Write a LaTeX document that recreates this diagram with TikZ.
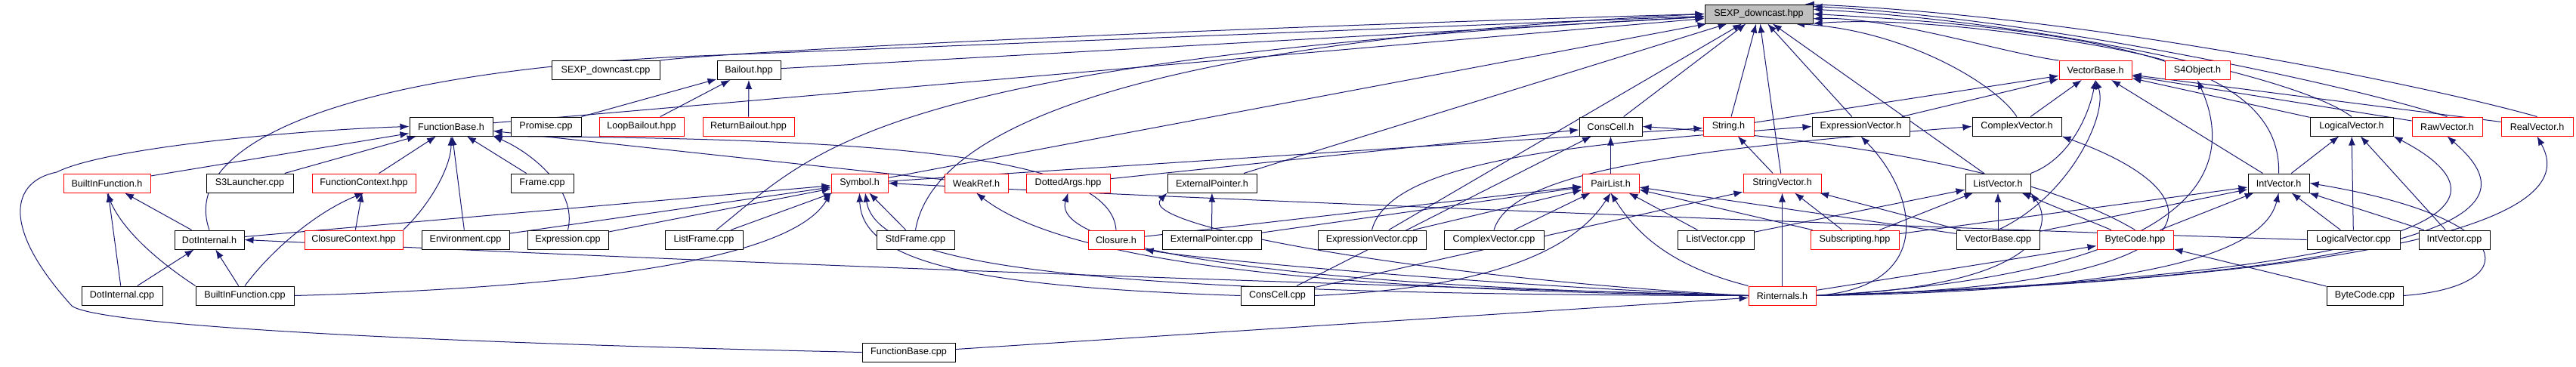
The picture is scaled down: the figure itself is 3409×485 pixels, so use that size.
\documentclass[tikz,border=0pt]{standalone}
\usepackage{fontspec}
\setsansfont{Liberation Sans}
\usepackage{tikz}
\usetikzlibrary{arrows.meta,positioning,calc}
\pgfdeclarelayer{edges}
\pgfsetlayers{edges,main}
\definecolor{navy}{HTML}{191970}
\definecolor{rootgray}{HTML}{BFBFBF}
\tikzset{
	file/.style = {draw=black, fill=white, rectangle, line width=1pt, minimum height=25pt, inner sep=0pt, font=\sffamily\fontsize{12.6}{14}\selectfont},
	part/.style = {file, draw=red},
	top/.style  = {file, fill=rootgray},
	dep/.style  = {draw=navy, line width=1pt, -{Latex[length=12pt,width=9pt]}}
}

\begin{document}
\begin{tikzpicture}[x=1pt,y=-1pt]
    \useasboundingbox (0,0) rectangle (3409,485);

    \node [top, minimum width=143] (root) at (2327.5,18.5) {SEXP\_downcast.hpp};

    \node [file, minimum width=143] (sdcpp) at (801.5,93) {SEXP\_downcast.cpp};
    \node [file, minimum width=84, right of=sdcpp, node distance=189.5] (bailout) {Bailout.hpp};
    \node [part, minimum width=96] (vecbase) at (2773,93) {VectorBase.h};
    \node [part, minimum width=86, right of=vecbase, node distance=135] (s4obj) {S4Object.h};

    \node [file, minimum width=110] (fbh) at (597,167.5) {FunctionBase.h};
    \node [file, minimum width=93, right of=fbh, node distance=125.5] (promise) {Promise.cpp};
    \node [part, minimum width=112, right of=promise, node distance=126.5] (loopb) {LoopBailout.hpp};
    \node [part, minimum width=121, right of=loopb, node distance=141.5] (retb) {ReturnBailout.hpp};
    \node [file, minimum width=83] (conscellh) at (2131.5,167.5) {ConsCell.h};
    \node [part, minimum width=67, right of=conscellh, node distance=156] (stringh) {String.h};
    \node [file, minimum width=129, right of=stringh, node distance=175] (exprvech) {ExpressionVector.h};
    \node [file, minimum width=118, right of=exprvech, node distance=206.5] (cplxvech) {ComplexVector.h};
    \node [file, minimum width=110] (logvech) at (3112,167.5) {LogicalVector.h};
    \node [part, minimum width=93, right of=logvech, node distance=126.5] (rawvech) {RawVector.h};
    \node [part, minimum width=95, right of=rawvech, node distance=119] (realvech) {RealVector.h};

    \node [part, minimum width=115] (bifh) at (141.5,242.5) {BuiltInFunction.h};
    \node [file, minimum width=115, right of=bifh, node distance=189] (s3l) {S3Launcher.cpp};
    \node [part, minimum width=137, right of=s3l, node distance=151] (fctx) {FunctionContext.hpp};
    \node [file, minimum width=83, right of=fctx, node distance=236] (frame) {Frame.cpp};
    \node [part, minimum width=75] (symh) at (1137.5,242.5) {Symbol.h};
    \node [part, minimum width=84, right of=symh, node distance=154.5] (weakref) {WeakRef.h};
    \node [part, minimum width=111, right of=weakref, node distance=121.5] (dotargs) {DottedArgs.hpp};
    \node [file, minimum width=118, right of=dotargs, node distance=190.5] (extptrh) {ExternalPointer.h};
    \node [part, minimum width=75] (pairlist) at (2131.5,242.5) {PairList.h};
    \node [part, minimum width=103, right of=pairlist, node distance=227] (strvech) {StringVector.h};
    \node [file, minimum width=86, right of=strvech, node distance=285.5] (listvech) {ListVector.h};
    \node [file, minimum width=81] (intvech) at (3015.5,242.5) {IntVector.h};

    \node [file, minimum width=92] (dotinth) at (277,317.5) {DotInternal.h};
    \node [part, minimum width=130, right of=dotinth, node distance=191] (closctx) {ClosureContext.hpp};
    \node [file, minimum width=116, right of=closctx, node distance=148] (envcpp) {Environment.cpp};
    \node [file, minimum width=107, right of=envcpp, node distance=135.5] (exprcpp) {Expression.cpp};
    \node [file, minimum width=103, right of=exprcpp, node distance=180] (listframe) {ListFrame.cpp};
    \node [file, minimum width=103, right of=listframe, node distance=280] (stdframe) {StdFrame.cpp};
    \node [part, minimum width=74, right of=stdframe, node distance=265.5] (closureh) {Closure.h};
    \node [file, minimum width=131, right of=closureh, node distance=126.5] (extptrcpp) {ExternalPointer.cpp};
    \node [file, minimum width=143, right of=extptrcpp, node distance=212] (exprveccpp) {ExpressionVector.cpp};
    \node [file, minimum width=132, right of=exprveccpp, node distance=161.5] (cplxveccpp) {ComplexVector.cpp};
    \node [file, minimum width=101, right of=cplxveccpp, node distance=293.5] (listveccpp) {ListVector.cpp};
    \node [part, minimum width=117, right of=listveccpp, node distance=184] (subscr) {Subscripting.hpp};
    \node [file, minimum width=110, right of=subscr, node distance=189.5] (vecbasecpp) {VectorBase.cpp};
    \node [part, minimum width=101, right of=vecbasecpp, node distance=181.5] (bytecodehpp) {ByteCode.hpp};
    \node [file, minimum width=123, right of=bytecodehpp, node distance=289] (logveccpp) {LogicalVector.cpp};
    \node [file, minimum width=94, right of=logveccpp, node distance=133.5] (intveccpp) {IntVector.cpp};

    \node [file, minimum width=107] (dotintcpp) at (161.5,391.5) {DotInternal.cpp};
    \node [file, minimum width=130, right of=dotintcpp, node distance=162.5] (bifcpp) {BuiltInFunction.cpp};
    \node [file, minimum width=97] (conscellcpp) at (1690.5,391.5) {ConsCell.cpp};
    \node [part, minimum width=89] (rinternals) at (2358.5,391.5) {Rinternals.h};
    \node [file, minimum width=101] (bytecodecpp) at (3129.5,391.5) {ByteCode.cpp};

    \node [file, minimum width=123] (fbcpp) at (1202.5,466.5) {FunctionBase.cpp};

    \begin{pgfonlayer}{edges}
    \draw [dep] (sdcpp.north east) .. controls (950,70) and (1500,40) .. (root.west);
    \draw [dep] (bailout) -- (root);
    \draw [dep] (fbh) -- (root);
    \draw [dep] (dotinth.north) .. controls (240,200) and (420,100) .. (900,75) -- (root);
    \draw [dep] (symh) -- (root);
    \draw [dep] (listframe) .. controls (1080,200) and (1150,80) .. (root);
    \draw [dep] (stdframe.north) .. controls (1230,200) and (1400,60) .. (root.west);
    \draw [dep] (extptrh) -- (root);
    \draw [dep] (conscellh) -- (root);
    \draw [dep] (exprveccpp) -- (root);
    \draw [dep] (stringh) -- (root);
    \draw [dep] (strvech) -- (root);
    \draw [dep] (exprvech) -- (root);
    \draw [dep] (listvech) -- (root);
    \draw [dep] (vecbase.north west) .. controls (2650,70) and (2500,22) .. (root.-5);
    \draw [dep] (s4obj.north west) .. controls (2800,60) and (2550,20) .. (root.-10);
    \draw [dep] (cplxvech.north) .. controls (2640,110) and (2520,40) .. (root.-15);
    \draw [dep] (logvech.north) .. controls (3040,100) and (2700,30) .. (root.5);
    \draw [dep] (rawvech.north) .. controls (3100,110) and (2700,25) .. (root.8);
    \draw [dep] (realvech.north) .. controls (3200,110) and (2750,20) .. (root.12);
    \draw [dep] (intvech.north) .. controls (3020,90) and (2800,40) .. (root.0);

    \draw [dep] (promise) -- (bailout);
    \draw [dep] (loopb) -- (bailout);
    \draw [dep] (retb) -- (bailout);

    \draw [dep] (bifh) -- (fbh);
    \draw [dep] (s3l) -- (fbh);
    \draw [dep] (fctx) -- (fbh);
    \draw [dep] (closctx.north east) .. controls (570,270) and (597,220) .. (fbh.south);
    \draw [dep] (frame) -- (fbh);
    \draw [dep] (envcpp) -- (fbh);
    \draw [dep] (exprcpp.north) .. controls (765,250) and (700,200) .. (fbh.south east);
    \draw [dep] (weakref) -- (fbh);
    \draw [dep] (closureh.north) .. controls (1470,210) and (1200,183) .. (fbh.south east);
    \draw [dep] (fbcpp.west) .. controls (400,450) and (120,425) .. (95,405) .. controls (0,300) and (15,240) .. (75,228) .. controls (140,195) and (400,172) .. (fbh.west);

    \draw [dep] (closctx) -- (fctx);
    \draw [dep] (bifcpp.north) .. controls (360,330) and (420,280) .. (fctx.south);

    \draw [dep] (dotinth) -- (bifh);
    \draw [dep] (dotintcpp) -- (bifh);
    \draw [dep] (bifcpp.north west) .. controls (200,340) and (160,300) .. (bifh.south);

    \draw [dep] (dotintcpp) -- (dotinth);
    \draw [dep] (bifcpp) -- (dotinth);
    \draw [dep] (rinternals.west) .. controls (1500,370) and (800,340) .. (dotinth.east);

    \draw [dep] (dotinth) -- (symh);
    \draw [dep] (envcpp) -- (symh);
    \draw [dep] (exprcpp) -- (symh);
    \draw [dep] (listframe) -- (symh);
    \draw [dep] (stdframe) -- (symh);
    \draw [dep] (bifcpp.east) .. controls (800,380) and (1050,340) .. (symh.south west);
    \draw [dep] (conscellcpp.west) .. controls (1300,380) and (1140,350) .. (symh.south);
    \draw [dep] (rinternals.west) .. controls (1400,390) and (1160,350) .. (symh.-60);
    \draw [dep] (logveccpp.west) .. controls (2500,300) and (1500,260) .. (symh.east);

    \draw [dep] (pairlist) -- (conscellh);
    \draw [dep] (conscellcpp) -- (conscellh);
    \draw [dep] (dotargs) -- (conscellh);
    \draw [dep] (bytecodehpp.north) .. controls (2700,230) and (2450,185) .. (conscellh.east);

    \draw [dep] (strvech) -- (stringh);
    \draw [dep] (symh) -- (stringh);
    \draw [dep] (stringh) -- (vecbase);

    \draw [dep] (exprvech) -- (vecbase);
    \draw [dep] (cplxvech) -- (vecbase);
    \draw [dep] (listvech.north east) .. controls (2740,210) and (2765,150) .. (vecbase.south);
    \draw [dep] (vecbasecpp.north) .. controls (2740,260) and (2790,150) .. (vecbase.south);
    \draw [dep] (intvech) -- (vecbase);
    \draw [dep] (logvech) -- (vecbase);
    \draw [dep] (rawvech) -- (vecbase);
    \draw [dep] (realvech) -- (vecbase);

    \draw [dep] (cplxveccpp.north) .. controls (2000,230) and (2200,200) .. (cplxvech.west);
    \draw [dep] (rinternals.east) .. controls (2950,380) and (2950,260) .. (cplxvech.south east);
    \draw [dep] (exprveccpp.north) .. controls (1840,210) and (2100,190) .. (exprvech.west);
    \draw [dep] (rinternals.east) .. controls (2560,380) and (2540,260) .. (exprvech.south);

    \draw [dep] (subscr) -- (listvech);
    \draw [dep] (vecbasecpp) -- (listvech);
    \draw [dep] (bytecodehpp) -- (listvech);
    \draw [dep] (listveccpp) -- (listvech);
    \draw [dep] (rinternals.east) .. controls (2700,380) and (2720,300) .. (listvech.south east);

    \draw [dep] (closureh) -- (pairlist);
    \draw [dep] (extptrcpp) -- (pairlist);
    \draw [dep] (exprveccpp) -- (pairlist);
    \draw [dep] (cplxveccpp) -- (pairlist);
    \draw [dep] (conscellcpp.east) .. controls (2000,380) and (2090,320) .. (pairlist.south);
    \draw [dep] (rinternals.north west) .. controls (2200,350) and (2160,300) .. (pairlist.south);
    \draw [dep] (listveccpp) -- (pairlist);
    \draw [dep] (subscr) -- (pairlist);
    \draw [dep] (vecbasecpp) -- (pairlist);

    \draw [dep] (subscr) -- (strvech);
    \draw [dep] (rinternals) -- (strvech);
    \draw [dep] (vecbasecpp) -- (strvech);
    \draw [dep] (conscellcpp) -- (strvech);

    \draw [dep] (bytecodehpp) -- (intvech);
    \draw [dep] (bytecodecpp.east) .. controls (3340,380) and (3340,290) .. (intvech.east);
    \draw [dep] (logveccpp) -- (intvech);
    \draw [dep] (intveccpp) -- (intvech);
    \draw [dep] (vecbasecpp) -- (intvech);
    \draw [dep] (subscr) -- (intvech);
    \draw [dep] (rinternals.east) .. controls (2900,385) and (3000,320) .. (intvech.south);

    \draw [dep] (intvech) -- (logvech);
    \draw [dep] (logveccpp) -- (logvech);
    \draw [dep] (intveccpp) -- (logvech);
    \draw [dep] (rinternals.east) .. controls (3300,360) and (3320,260) .. (logvech.south east);
    \draw [dep] (rinternals.east) .. controls (3350,360) and (3330,260) .. (rawvech.south);
    \draw [dep] (rinternals.east) .. controls (3400,360) and (3390,240) .. (realvech.south);
    \draw [dep] (rinternals.east) .. controls (2960,360) and (2950,200) .. (s4obj.south);
    \draw [dep] (rinternals) -- (bytecodehpp);
    \draw [dep] (bytecodecpp) -- (bytecodehpp);

    \draw [dep] (extptrcpp) -- (extptrh);
    \draw [dep] (rinternals.west) .. controls (1900,370) and (1500,300) .. (extptrh.south west);
    \draw [dep] (rinternals.west) .. controls (2000,380) and (1600,345) .. (closureh.south east);
    \draw [dep] (rinternals.west) .. controls (1700,385) and (1400,340) .. (weakref.south);
    \draw [dep] (rinternals.west) .. controls (1700,380) and (1390,330) .. (dotargs.south);
    \draw [dep] (fbcpp) -- (rinternals);
    \end{pgfonlayer}
\end{tikzpicture}
\end{document}
